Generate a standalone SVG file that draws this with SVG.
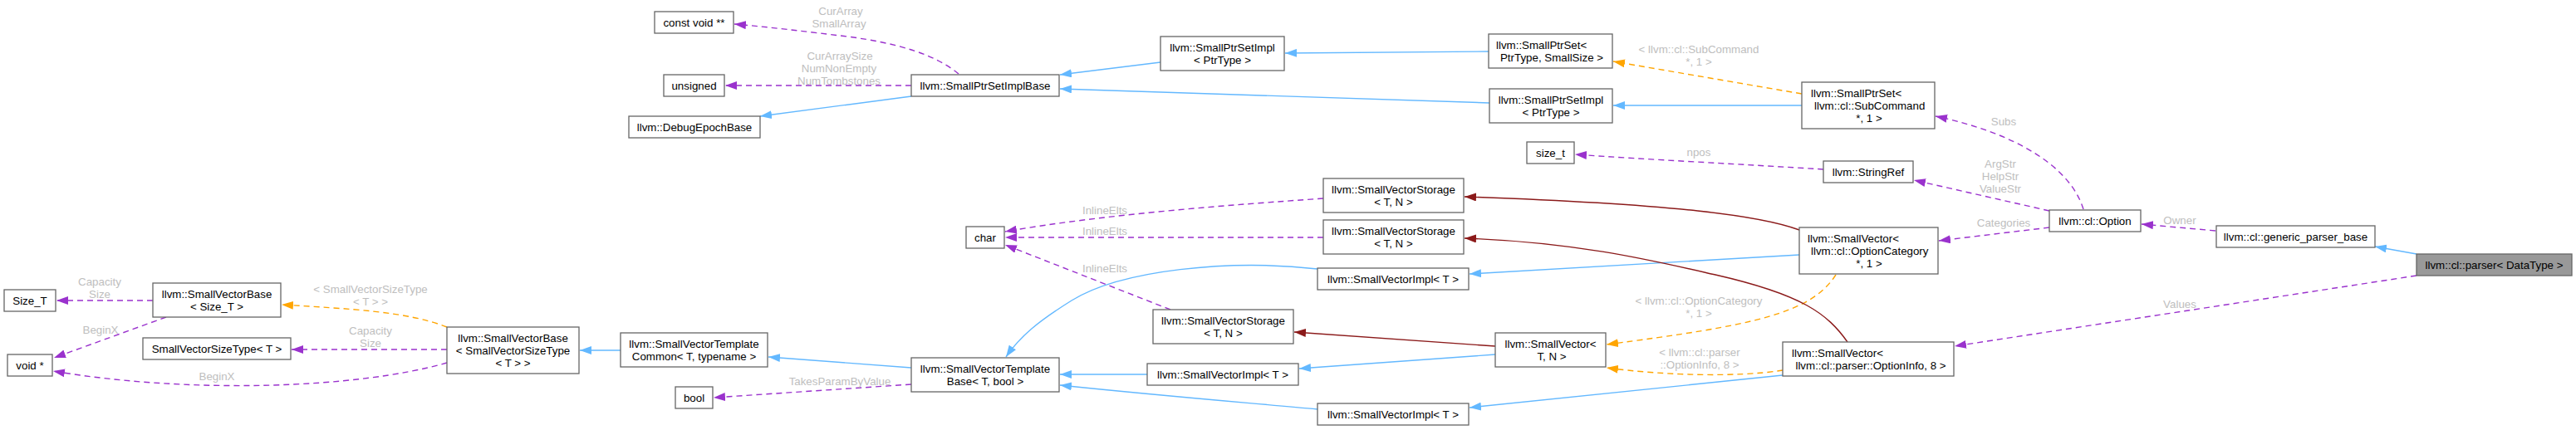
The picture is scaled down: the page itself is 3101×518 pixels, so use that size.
<svg xmlns="http://www.w3.org/2000/svg" width="3101" height="518" viewBox="0 0 3101 518">
<style>
.n rect{fill:#fff;stroke:#666;stroke-width:1.3}
.n.g rect{fill:#999}
text{font-family:"Liberation Sans",Arial,Helvetica,sans-serif;font-size:13.33px;fill:#000;text-anchor:middle}
text.s{text-anchor:start}
.lb text{fill:#bebebe}
.e path{fill:none;stroke-width:1.4}
.e .pub{stroke:#63b8ff}
.e .use{stroke:#9a32cd;stroke-dasharray:7,5}
.e .tpl{stroke:#ffa500;stroke-dasharray:7,5}
.e .prv{stroke:#8b1a1a}
</style>
<defs>
<marker id="aB" viewBox="0 0 14 10" refX="14" refY="5" markerWidth="14" markerHeight="10" markerUnits="userSpaceOnUse" orient="auto"><path d="M0,0L14,5L0,10z" fill="#63b8ff"/></marker>
<marker id="aP" viewBox="0 0 14 10" refX="14" refY="5" markerWidth="14" markerHeight="10" markerUnits="userSpaceOnUse" orient="auto"><path d="M0,0L14,5L0,10z" fill="#9a32cd"/></marker>
<marker id="aO" viewBox="0 0 14 10" refX="14" refY="5" markerWidth="14" markerHeight="10" markerUnits="userSpaceOnUse" orient="auto"><path d="M0,0L14,5L0,10z" fill="#ffa500"/></marker>
<marker id="aR" viewBox="0 0 14 10" refX="14" refY="5" markerWidth="14" markerHeight="10" markerUnits="userSpaceOnUse" orient="auto"><path d="M0,0L14,5L0,10z" fill="#8b1a1a"/></marker>
</defs>
<rect width="3101" height="518" fill="#fff"/>

<g id="edges" class="e">
<path class="use" marker-end="url(#aP)" d="M1154,89 C1125,65 1080,52 1020,44 C970,38 930,33 884,29"/>
<path class="use" marker-end="url(#aP)" d="M1097,103 L873,103"/>
<path class="pub" marker-end="url(#aB)" d="M1097,116 L915,140"/>
<path class="pub" marker-end="url(#aB)" d="M1397,75 L1276,90"/>
<path class="pub" marker-end="url(#aB)" d="M1792,62 L1547,64"/>
<path class="pub" marker-end="url(#aB)" d="M1793,124 L1276,107"/>
<path class="pub" marker-end="url(#aB)" d="M2169,127 L1942,127"/>
<path class="tpl" marker-end="url(#aO)" d="M2169,113 L1942,74"/>
<path class="use" marker-end="url(#aP)" d="M2508,252 C2492,200 2425,160 2330,140"/>
<path class="use" marker-end="url(#aP)" d="M2467,254 L2304,217"/>
<path class="use" marker-end="url(#aP)" d="M2195,204 C2100,198 1980,192 1896,186"/>
<path class="use" marker-end="url(#aP)" d="M2467,274 L2334,290"/>
<path class="use" marker-end="url(#aP)" d="M2667,278 L2578,270"/>
<path class="pub" marker-end="url(#aB)" d="M2909,306 L2859,297"/>
<path class="use" marker-end="url(#aP)" d="M2909,332 L2353,417"/>
<path class="prv" marker-end="url(#aR)" d="M2166,277 C2120,260 2020,246 1763,237"/>
<path class="pub" marker-end="url(#aB)" d="M2166,307 L1769,330"/>
<path class="tpl" marker-end="url(#aO)" d="M2210,331 C2180,378 2110,392 1934,415"/>
<path class="prv" marker-end="url(#aR)" d="M2224,412 C2200,378 2170,355 2065,331 C1990,314 1900,292 1763,287"/>
<path class="tpl" marker-end="url(#aO)" d="M2146,446 C2090,455 2000,452 1934,443"/>
<path class="pub" marker-end="url(#aB)" d="M2146,452 L1769,491"/>
<path class="use" marker-end="url(#aP)" d="M1593,239 C1480,247 1330,258 1210,279"/>
<path class="use" marker-end="url(#aP)" d="M1593,286 L1210,286"/>
<path class="use" marker-end="url(#aP)" d="M1409,373 L1210,295"/>
<path class="pub" marker-end="url(#aB)" d="M1586,324 C1480,312 1350,325 1290,362 C1250,387 1228,405 1211,430"/>
<path class="pub" marker-end="url(#aB)" d="M1381,451 L1276,451"/>
<path class="pub" marker-end="url(#aB)" d="M1586,493 C1500,485 1400,477 1276,464"/>
<path class="prv" marker-end="url(#aR)" d="M1800,417 L1558,400"/>
<path class="pub" marker-end="url(#aB)" d="M1800,427 L1564,444"/>
<path class="pub" marker-end="url(#aB)" d="M1097,443 L925,430"/>
<path class="use" marker-end="url(#aP)" d="M1097,463 L859,479"/>
<path class="pub" marker-end="url(#aB)" d="M747,422 L698,422"/>
<path class="tpl" marker-end="url(#aO)" d="M538,394 C490,375 420,372 339,367"/>
<path class="use" marker-end="url(#aP)" d="M538,421 L351,421"/>
<path class="use" marker-end="url(#aP)" d="M538,437 C430,468 230,475 64,447"/>
<path class="use" marker-end="url(#aP)" d="M184,362 L68,362"/>
<path class="use" marker-end="url(#aP)" d="M200,382 L65,431"/>
</g>

<g id="labels" class="lb">
<text x="1012" y="18">CurArray</text>
<text x="1010" y="33">SmallArray</text>
<text x="1011" y="72">CurArraySize</text>
<text x="1010" y="87">NumNonEmpty</text>
<text x="1010" y="102">NumTombstones</text>
<text x="446" y="353">&lt; SmallVectorSizeType</text>
<text x="446" y="368">&lt; T &gt; &gt;</text>
<text x="446" y="403">Capacity</text>
<text x="446" y="418">Size</text>
<text x="261" y="458">BeginX</text>
<text x="120" y="344">Capacity</text>
<text x="120" y="359">Size</text>
<text x="121" y="402">BeginX</text>
<text x="1011" y="464">TakesParamByValue</text>
<text x="1330" y="258">InlineElts</text>
<text x="1330" y="283">InlineElts</text>
<text x="1330" y="328">InlineElts</text>
<text x="2045" y="188">npos</text>
<text x="2045" y="64">&lt; llvm::cl::SubCommand</text>
<text x="2045" y="79">*, 1 &gt;</text>
<text x="2045" y="367">&lt; llvm::cl::OptionCategory</text>
<text x="2045" y="382">*, 1 &gt;</text>
<text x="2046" y="429">&lt; llvm::cl::parser</text>
<text x="2046" y="444">::OptionInfo, 8 &gt;</text>
<text x="2412" y="151">Subs</text>
<text x="2408" y="202">ArgStr</text>
<text x="2408" y="217">HelpStr</text>
<text x="2408" y="232">ValueStr</text>
<text x="2412" y="273">Categories</text>
<text x="2624" y="270">Owner</text>
<text x="2624" y="371">Values</text>
</g>

<g id="n_constvoid" class="n"><rect x="788" y="14" width="95" height="26"/><text x="835.5" y="32">const void **</text></g>
<g id="n_unsigned" class="n"><rect x="799" y="90" width="73" height="26"/><text x="835.5" y="108">unsigned</text></g>
<g id="n_debugepoch" class="n"><rect x="757" y="140" width="158" height="26"/><text x="836" y="158">llvm::DebugEpochBase</text></g>
<g id="n_sizeT" class="n"><rect x="5" y="349" width="62" height="26"/><text x="36" y="367">Size_T</text></g>
<g id="n_svbase_sizeT" class="n"><rect x="184" y="341" width="154" height="41"/><text x="261" y="359">llvm::SmallVectorBase</text><text x="261" y="374">&lt; Size_T &gt;</text></g>
<g id="n_svst" class="n"><rect x="172" y="407" width="178" height="26"/><text x="261" y="425">SmallVectorSizeType&lt; T &gt;</text></g>
<g id="n_voidp" class="n"><rect x="9" y="427" width="54" height="26"/><text x="36" y="445">void *</text></g>
<g id="n_svbase_svst" class="n"><rect x="538" y="394" width="159" height="56"/><text x="617.5" y="412">llvm::SmallVectorBase</text><text x="617.5" y="427">&lt; SmallVectorSizeType</text><text x="617.5" y="442">&lt; T &gt; &gt;</text></g>
<g id="n_svtc" class="n"><rect x="747" y="401" width="177" height="41"/><text x="835.5" y="419">llvm::SmallVectorTemplate</text><text x="835.5" y="434">Common&lt; T, typename &gt;</text></g>
<g id="n_bool" class="n"><rect x="813" y="466" width="45" height="26"/><text x="835.5" y="484">bool</text></g>
<g id="n_spsib" class="n"><rect x="1097" y="90" width="178" height="26"/><text x="1186" y="108">llvm::SmallPtrSetImplBase</text></g>
<g id="n_char" class="n"><rect x="1163" y="273" width="46" height="26"/><text x="1186" y="291">char</text></g>
<g id="n_svtb" class="n"><rect x="1097" y="431" width="178" height="41"/><text x="1186" y="449">llvm::SmallVectorTemplate</text><text x="1186" y="464">Base&lt; T, bool &gt;</text></g>
<g id="n_spsi1" class="n"><rect x="1397" y="44" width="149" height="41"/><text x="1471.5" y="62">llvm::SmallPtrSetImpl</text><text x="1471.5" y="77">&lt; PtrType &gt;</text></g>
<g id="n_svstor3" class="n"><rect x="1388" y="373" width="169" height="41"/><text x="1472.5" y="391">llvm::SmallVectorStorage</text><text x="1472.5" y="406">&lt; T, N &gt;</text></g>
<g id="n_svimpl2" class="n"><rect x="1381" y="438" width="182" height="26"/><text x="1472" y="456">llvm::SmallVectorImpl&lt; T &gt;</text></g>
<g id="n_svstor1" class="n"><rect x="1593" y="215" width="169" height="41"/><text x="1677.5" y="233">llvm::SmallVectorStorage</text><text x="1677.5" y="248">&lt; T, N &gt;</text></g>
<g id="n_svstor2" class="n"><rect x="1593" y="265" width="169" height="41"/><text x="1677.5" y="283">llvm::SmallVectorStorage</text><text x="1677.5" y="298">&lt; T, N &gt;</text></g>
<g id="n_svimpl1" class="n"><rect x="1586" y="323" width="182" height="26"/><text x="1677" y="341">llvm::SmallVectorImpl&lt; T &gt;</text></g>
<g id="n_svimpl3" class="n"><rect x="1586" y="486" width="182" height="26"/><text x="1677" y="504">llvm::SmallVectorImpl&lt; T &gt;</text></g>
<g id="n_sps1" class="n"><rect x="1792" y="41" width="149" height="41"/><text class="s" x="1801" y="59">llvm::SmallPtrSet&lt;</text><text x="1868" y="74">PtrType, SmallSize &gt;</text></g>
<g id="n_spsi2" class="n"><rect x="1793" y="107" width="148" height="41"/><text x="1867" y="125">llvm::SmallPtrSetImpl</text><text x="1867" y="140">&lt; PtrType &gt;</text></g>
<g id="n_sizet" class="n"><rect x="1838" y="171" width="57" height="26"/><text x="1866.5" y="189">size_t</text></g>
<g id="n_svTN" class="n"><rect x="1800" y="401" width="133" height="41"/><text x="1866.5" y="419">llvm::SmallVector&lt;</text><text x="1868" y="434">T, N &gt;</text></g>
<g id="n_spsSub" class="n"><rect x="2169" y="99" width="160" height="56"/><text class="s" x="2180" y="117">llvm::SmallPtrSet&lt;</text><text class="s" x="2184" y="132">llvm::cl::SubCommand</text><text x="2250" y="147">*, 1 &gt;</text></g>
<g id="n_strref" class="n"><rect x="2195" y="194" width="108" height="26"/><text x="2249" y="212">llvm::StringRef</text></g>
<g id="n_svOptCat" class="n"><rect x="2166" y="274" width="167" height="56"/><text class="s" x="2176" y="292">llvm::SmallVector&lt;</text><text class="s" x="2180" y="307">llvm::cl::OptionCategory</text><text x="2250" y="322">*, 1 &gt;</text></g>
<g id="n_svOptInfo" class="n"><rect x="2146" y="412" width="206" height="41"/><text class="s" x="2157" y="430">llvm::SmallVector&lt;</text><text x="2252" y="445">llvm::cl::parser::OptionInfo, 8 &gt;</text></g>
<g id="n_option" class="n"><rect x="2467" y="253" width="110" height="26"/><text x="2522" y="271">llvm::cl::Option</text></g>
<g id="n_gpb" class="n"><rect x="2668" y="272" width="191" height="26"/><text x="2763.5" y="290">llvm::cl::generic_parser_base</text></g>
<g id="n_parser" class="n g"><rect x="2909" y="306" width="187" height="26"/><text x="3002.5" y="324">llvm::cl::parser&lt; DataType &gt;</text></g>
</svg>
